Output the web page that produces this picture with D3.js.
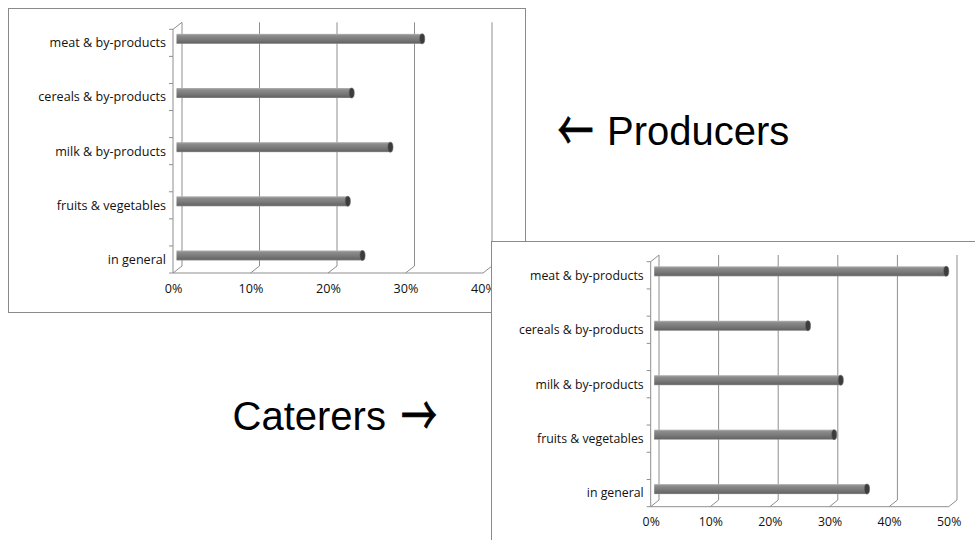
<!DOCTYPE html>
<html>
<head>
<meta charset="utf-8">
<script src="https://cdn.jsdelivr.net/npm/d3@7"></script>
<style>
  body { margin: 0; background: #fff; }
  svg { display: block; }
</style>
</head>
<body>
<div id="chart"></div>
<script>
// categories, bottom to top as in the original
var categories = ["in general", "fruits & vegetables", "milk & by-products", "cereals & by-products", "meat & by-products"];
var producersValues = [0.240, 0.221, 0.276, 0.226, 0.317];
var caterersValues  = [0.357, 0.302, 0.313, 0.258, 0.490];
var producersTicks = [0, 0.1, 0.2, 0.3, 0.4];
var caterersTicks  = [0, 0.1, 0.2, 0.3, 0.4, 0.5];

var W = 975, H = 540;
var gridColor = "#8e8e8e";

var svg = d3.select("#chart").append("svg")
    .attr("width", W)
    .attr("height", H);

var defs = svg.append("defs");
var grad = defs.append("linearGradient")
    .attr("id", "cyl")
    .attr("x1", 0).attr("y1", 0).attr("x2", 0).attr("y2", 1);
grad.append("stop").attr("offset", "0%").attr("stop-color", "#b4b4b4");
grad.append("stop").attr("offset", "18%").attr("stop-color", "#8c8c8c");
grad.append("stop").attr("offset", "55%").attr("stop-color", "#7a7a7a");
grad.append("stop").attr("offset", "88%").attr("stop-color", "#676767");
grad.append("stop").attr("offset", "100%").attr("stop-color", "#8a8a8a");

function bar3d_chart(config){
    var box = config.box,
        ticks = config.ticks,
        dx = config.dx, dy = config.dy,
        top = config.top, floor = config.floor,
        fs = config.fontSize;

    var g = svg.append("g");

    g.append("rect")
        .attr("x", box.x + 0.5).attr("y", box.y + 0.5)
        .attr("width", box.w).attr("height", box.h)
        .attr("fill", "#fff")
        .attr("stroke", "#8a8a8a")
        .attr("stroke-width", 1);

    var x = d3.scaleLinear()
        .domain([0, ticks[ticks.length - 1]])
        .range([config.x0, config.x1]);

    var slot = (floor - top) / 9;
    var y = d3.scaleBand()
        .domain(categories.slice().reverse())
        .range([top, top + 10 * slot]);

    // back wall gridlines
    g.append("g").selectAll("line")
        .data(ticks)
        .enter().append("line")
            .attr("x1", function(d){ return x(d) + dx; })
            .attr("x2", function(d){ return x(d) + dx; })
            .attr("y1", top + dy)
            .attr("y2", floor + dy)
            .attr("stroke", gridColor);

    // floor depth lines
    g.append("g").selectAll("line")
        .data(ticks)
        .enter().append("line")
            .attr("x1", function(d){ return x(d); })
            .attr("x2", function(d){ return x(d) + dx; })
            .attr("y1", floor)
            .attr("y2", floor + dy)
            .attr("stroke", gridColor);

    // front floor edge
    g.append("line")
        .attr("x1", x(0)).attr("x2", x(ticks[ticks.length - 1]))
        .attr("y1", floor).attr("y2", floor)
        .attr("stroke", gridColor);

    // left wall: front axis + top depth line
    g.append("line")
        .attr("x1", x(0)).attr("x2", x(0))
        .attr("y1", top).attr("y2", floor)
        .attr("stroke", gridColor);
    g.append("line")
        .attr("x1", x(0)).attr("x2", x(0) + dx)
        .attr("y1", top).attr("y2", top + dy)
        .attr("stroke", gridColor);

    // small ticks on the category axis
    var tickYs = [];
    y.domain().forEach(function(c){
        tickYs.push(y(c));
        tickYs.push(y(c) + slot);
    });
    g.append("g").selectAll("line")
        .data(tickYs.filter(function(d){ return d <= floor + 0.5; }))
        .enter().append("line")
            .attr("x1", x(0) - 4).attr("x2", x(0))
            .attr("y1", function(d){ return d; })
            .attr("y2", function(d){ return d; })
            .attr("stroke", gridColor);

    // category labels
    g.append("g").selectAll("text")
        .data(categories)
        .enter().append("text")
            .attr("x", x(0) - 7)
            .attr("y", function(d){ return y(d) + slot / 2; })
            .attr("dy", "0.35em")
            .attr("text-anchor", "end")
            .attr("font-family", "Open Sans, sans-serif")
            .attr("font-size", fs)
            .attr("fill", "#111")
            .text(function(d){ return d; });

    // value axis labels
    var x_axis = d3.axisBottom(x)
        .tickValues(ticks)
        .tickFormat(d3.format(".0%"))
        .tickSize(0)
        .tickPadding(config.labelPad);

    var ax = g.append("g")
        .attr("transform", "translate(0," + floor + ")")
        .call(x_axis);
    ax.select(".domain").remove();
    ax.selectAll("text")
        .attr("font-family", "Open Sans, sans-serif")
        .attr("font-size", fs)
        .attr("fill", "#111");

    // cylinder bars
    var th = 10, bdx = 3.5, bdy = -4;
    var bars = g.append("g").selectAll("g")
        .data(config.values)
        .enter().append("g");

    bars.append("rect")
        .attr("x", x(0) + bdx)
        .attr("y", function(d, i){ return y(categories[i]) + slot / 2 + bdy - th / 2; })
        .attr("width", function(d){ return x(d) - x(0); })
        .attr("height", th)
        .attr("fill", "url(#cyl)");

    bars.append("ellipse")
        .attr("cx", function(d){ return x(d) + bdx; })
        .attr("cy", function(d, i){ return y(categories[i]) + slot / 2 + bdy; })
        .attr("rx", 2.6)
        .attr("ry", th / 2)
        .attr("fill", "#3c3c3c")
        .attr("stroke", "#6a6a6a")
        .attr("stroke-width", 0.6);

    return g;
}

bar3d_chart({
    box: { x: 8, y: 8, w: 517, h: 304 },
    values: producersValues,
    ticks: producersTicks,
    x0: 173, x1: 483,
    top: 29.3, floor: 273,
    dx: 9, dy: -7,
    labelPad: 11,
    fontSize: 12.6
});

var big = svg.append("g")
    .attr("font-family", "Liberation Sans, Arial, sans-serif")
    .attr("font-size", 40)
    .attr("fill", "#000");
big.append("text").attr("x", 607).attr("y", 145).text("Producers");
big.append("text").attr("x", 232.5).attr("y", 430).text("Caterers");

// the big arrows, stretched a little to match the original glyph
function arrow(ch, cx, cy){
    big.append("text")
        .attr("transform", "translate(" + cx + "," + cy + ") scale(0.9,1.4)")
        .attr("text-anchor", "middle")
        .attr("dy", "0.35em")
        .attr("font-family", "Noto Sans CJK SC")
        .attr("stroke", "#000")
        .attr("stroke-width", 0.7)
        .text(ch);
}
arrow("\u2190", 575.5, 131);
arrow("\u2192", 419, 416);

bar3d_chart({
    box: { x: 491, y: 241, w: 500, h: 320 },
    values: caterersValues,
    ticks: caterersTicks,
    x0: 650.7, x1: 948.7,
    top: 261.7, floor: 506.7,
    dx: 8.3, dy: -6.7,
    labelPad: 11,
    fontSize: 12.3
});
</script>
</body>
</html>
